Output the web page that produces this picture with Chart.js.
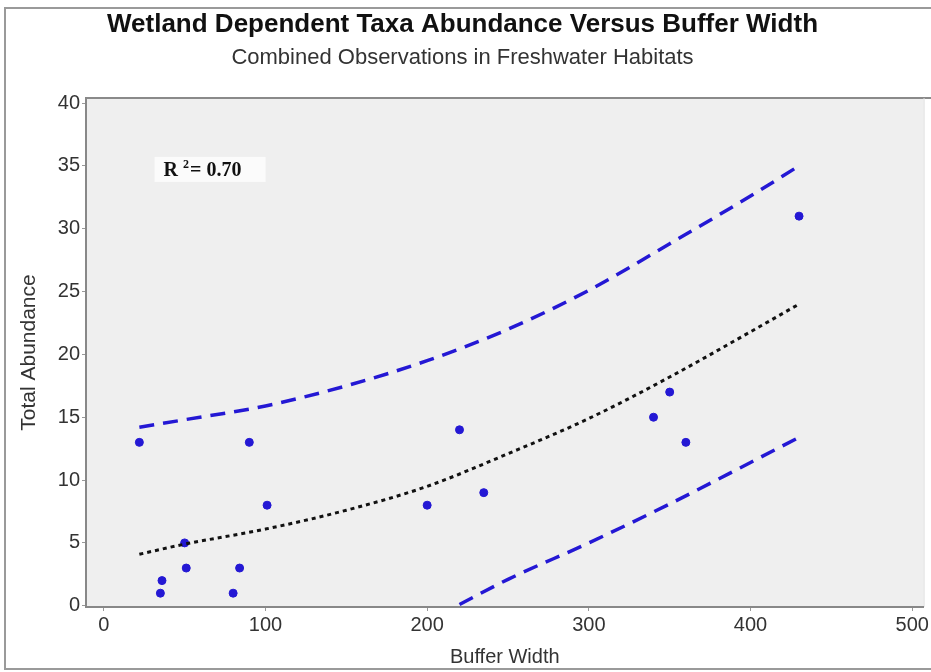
<!DOCTYPE html>
<html>
<head>
<meta charset="utf-8">
<script src="https://cdn.jsdelivr.net/npm/chart.js@4"></script>
<style>
  body { margin: 0; background: #fff; }
  canvas { display: block; }
</style>
</head>
<body>
<canvas id="chart" width="931" height="672"></canvas>
<script>
// observed points (buffer width, total abundance)
var obsX = [22, 35, 36, 50, 51, 80, 84, 90, 101, 200, 220, 235, 340, 350, 360, 430];
var obsY = [13, 1, 2, 5, 3, 1, 3, 13, 8, 8, 14, 9, 15, 17, 13, 31];

// fitted curve
var fitX = [22, 50, 100, 150, 200, 250, 300, 350, 400, 430];
var fitY = [4.1, 4.9, 6.1, 7.6, 9.5, 12.1, 14.9, 18.2, 21.8, 24.0];

// upper / lower bands
var upX = [22, 50, 100, 150, 200, 250, 300, 350, 400, 430];
var upY = [14.2, 14.8, 15.9, 17.5, 19.5, 22.0, 25.1, 28.8, 32.6, 35.0];
var lowX = [220, 250, 300, 350, 400, 430];
var lowY = [0.1, 2.1, 5.0, 8.1, 11.4, 13.4];

var xTicks = [0, 100, 200, 300, 400, 500];
var yTicks = [0, 5, 10, 15, 20, 25, 30, 35, 40];

var r2Label = "0.70";
var r2Pos = { x: 37, y: 34.2 };

var blue = "#2418d4";
var sans = "'Liberation Sans', Arial, sans-serif";
var serif = "'Liberation Serif', 'Times New Roman', serif";

function toPoints(xs, ys) {
  return xs.map(function (x, i) { return { x: x, y: ys[i] }; });
}

// background, frame and R^2 box
var decor = {
  id: "decor",
  beforeDraw: function (chart) {
    var ctx = chart.ctx, a = chart.chartArea;
    ctx.save();
    ctx.fillStyle = "#ffffff";
    ctx.fillRect(0, 0, chart.width, chart.height);
    ctx.strokeStyle = "#9a9a9a";
    ctx.lineWidth = 2;
    ctx.strokeRect(5, 8, chart.width + 10, chart.height - 11);
    ctx.fillStyle = "#efefef";
    ctx.fillRect(a.left, a.top, a.right - a.left, a.bottom - a.top);
    ctx.strokeStyle = "#8a8a8a";
    ctx.lineWidth = 2;
    ctx.beginPath();
    ctx.moveTo(a.left, a.top);
    ctx.lineTo(chart.width, a.top);
    ctx.stroke();
    ctx.strokeStyle = "#dddddd";
    ctx.lineWidth = 1;
    ctx.beginPath();
    ctx.moveTo(a.right + 0.5, a.top);
    ctx.lineTo(a.right + 0.5, a.bottom);
    ctx.stroke();
    ctx.restore();
  },
  afterDatasetsDraw: function (chart) {
    var ctx = chart.ctx;
    var px = chart.scales.x.getPixelForValue(r2Pos.x);
    var py = chart.scales.y.getPixelForValue(r2Pos.y);
    ctx.save();
    ctx.fillStyle = "#fbfbfb";
    ctx.fillRect(px - 9, py - 19, 111, 25);
    ctx.fillStyle = "#111";
    ctx.textBaseline = "alphabetic";
    ctx.font = "bold 20px " + serif;
    ctx.fillText("R", px, py);
    var w = ctx.measureText("R ").width;
    ctx.font = "bold 12px " + serif;
    ctx.fillText("2", px + w, py - 8);
    ctx.font = "bold 20px " + serif;
    ctx.fillText("= " + r2Label, px + w + 7, py);
    ctx.restore();
  }
};

var ctx = document.getElementById("chart").getContext("2d");

new Chart(ctx, {
  type: "scatter",
  data: {
    datasets: [
      {
        label: "Lower",
        data: toPoints(lowX, lowY),
        showLine: true,
        borderColor: blue,
        borderWidth: 3.5,
        borderDash: [15, 9],
        pointRadius: 0,
        cubicInterpolationMode: "monotone",
      },
      {
        label: "Upper",
        data: toPoints(upX, upY),
        showLine: true,
        borderColor: blue,
        borderWidth: 3.5,
        borderDash: [15, 9],
        pointRadius: 0,
        cubicInterpolationMode: "monotone",
      },
      {
        label: "Fit",
        data: toPoints(fitX, fitY),
        showLine: true,
        borderColor: "#111111",
        borderWidth: 3,
        borderDash: [4, 4],
        pointRadius: 0,
        cubicInterpolationMode: "monotone",
      },
      {
        label: "Observed",
        data: toPoints(obsX, obsY),
        showLine: false,
        backgroundColor: blue,
        borderColor: blue,
        pointRadius: 4,
      },
    ],
  },
  options: {
    responsive: false,
    animation: false,
    layout: { padding: { left: 0, right: 6, top: 0, bottom: 0 } },
    plugins: {
      legend: { display: false },
      tooltip: { enabled: false },
      title: {
        display: true,
        text: "Wetland Dependent Taxa Abundance Versus Buffer Width",
        color: "#111",
        font: { family: sans, size: 26, weight: "bold" },
        padding: { top: 9, bottom: 2 },
      },
      subtitle: {
        display: true,
        text: "Combined Observations in Freshwater Habitats",
        color: "#333",
        font: { family: sans, size: 22 },
        padding: { top: 3, bottom: 26.4 },
      },
    },
    scales: {
      x: {
        type: "linear",
        min: -11,
        max: 507,
        afterFit: function (scale) { scale.height = 65; },
        afterBuildTicks: function (scale) {
          scale.ticks = xTicks.map(function (v) { return { value: v }; });
        },
        grid: { drawOnChartArea: false, drawTicks: true, tickLength: 4, color: "#999" },
        border: { color: "#888", width: 2 },
        ticks: {
          color: "#333",
          padding: 2,
          maxRotation: 0,
          font: { family: sans, size: 20 },
        },
        title: {
          display: true,
          text: "Buffer Width",
          color: "#333",
          font: { family: sans, size: 20 },
          padding: { top: 2, bottom: 3 },
        },
      },
      y: {
        type: "linear",
        min: -0.1,
        max: 40.4,
        afterFit: function (scale) { scale.width = 86; },
        afterBuildTicks: function (scale) {
          scale.ticks = yTicks.map(function (v) { return { value: v }; });
        },
        grid: { drawOnChartArea: false, drawTicks: true, tickLength: 4, color: "#999" },
        border: { color: "#888", width: 2 },
        ticks: {
          color: "#333",
          padding: 2,
          font: { family: sans, size: 20 },
        },
        title: {
          display: true,
          text: "Total Abundance",
          color: "#333",
          font: { family: sans, size: 21 },
          padding: { top: 16.4, bottom: 0 },
        },
      },
    },
  },
  plugins: [decor],
});
</script>
</body>
</html>
